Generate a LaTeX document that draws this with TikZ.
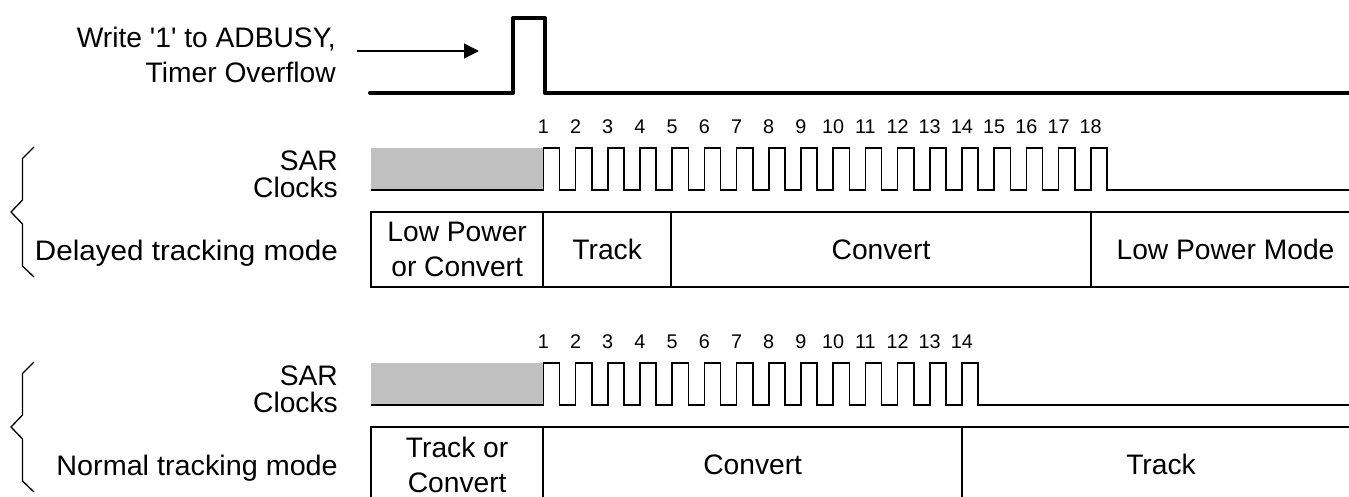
\documentclass[tikz,border=0pt]{standalone}
\usepackage{fontspec}
\setmainfont{Liberation Sans}
\usetikzlibrary{arrows.meta}
\definecolor{boxgray}{RGB}{192,192,192}
\begin{document}
\begin{tikzpicture}[x=1pt,y=-1pt,
  lbl/.style={font=\fontsize{28.2}{35}\selectfont, inner sep=0pt},
  sarlbl/.style={font=\fontsize{28.2}{27}\selectfont, inner sep=0pt, align=right, anchor=east},
  num/.style={font=\fontsize{19.8}{24}\selectfont, inner sep=0pt, anchor=base},
  cell/.style={draw, line width=1.8pt, minimum height=75pt, inner sep=0pt, outer sep=0pt,
               anchor=north west, align=center, font=\fontsize{28.2}{35}\selectfont},
  clk/.style={line width=1.6pt, line join=miter},
  sig/.style={line width=4pt, line join=round, line cap=round},
  brace/.style={line width=1.3pt, line join=miter},
  pointer/.style={line width=1.3pt, -{Triangle[length=15pt,width=15pt]}}]
\useasboundingbox (0,0) rectangle (1349,496);

% trigger
\node[lbl, align=right, anchor=east] (trig) at (336,54.5)
  {Write \textquotesingle1\textquotesingle{} to ADBUSY,\\Timer Overflow};
\coordinate (arrS) at (357,51);
\coordinate (arrE) at (479,51);
\draw[pointer] (arrS) -- (arrE);
\draw[sig] (370,93) -- (513,93) -- (513,18) -- (545,18) -- (545,93) -- (1355,93);

% ---------- delayed tracking mode ----------
\draw[brace] (34,147) -- (22.5,158.5) -- (22.5,200) -- (11,212) -- (22.5,224) -- (22.5,266) -- (34,277);
\node[sarlbl] (sar1) at (338,174.5) {SAR\\Clocks};
\node[lbl, anchor=base east] (mode1) at (338,260) {\scalebox{1.05}[1]{Delayed tracking mode}};
\fill[boxgray] (371,148) rectangle (543.3,190);
\draw[clk] (371,190) -- (543.3,190)
  foreach \k in {0,...,17} { -- ({543.3+\k*32.2},190) -- ({543.3+\k*32.2},148)
    -- ({559.5+\k*32.2},148) -- ({559.5+\k*32.2},190) } -- (1355,190);
\foreach \k in {1,...,18}
  \node[num] (na\k) at ({543.3+(\k-1)*32.2},133) {\k};
\node[cell, minimum width=172.3pt] (c11) at (371,212) {Low Power\\or Convert};
\node[cell, minimum width=127.7pt] (c12) at (543.3,212) {Track};
\node[cell, minimum width=420pt] (c13) at (671,212) {Convert};
\node[cell, minimum width=269pt] (c14) at (1091,212) {Low Power Mode};

% ---------- normal tracking mode ----------
\draw[brace] (34,362) -- (22.5,373.5) -- (22.5,415) -- (11,427) -- (22.5,439) -- (22.5,481) -- (34,492);
\node[sarlbl] (sar2) at (338,389.5) {SAR\\Clocks};
\node[lbl, anchor=base east] (mode2) at (338,475) {\scalebox{1.02}[1]{Normal tracking mode}};
\fill[boxgray] (371,363) rectangle (543.3,405);
\draw[clk] (371,405) -- (543.3,405)
  foreach \k in {0,...,13} { -- ({543.3+\k*32.2},405) -- ({543.3+\k*32.2},363)
    -- ({559.5+\k*32.2},363) -- ({559.5+\k*32.2},405) } -- (1355,405);
\foreach \k in {1,...,14}
  \node[num] (nb\k) at ({543.3+(\k-1)*32.2},348) {\k};
\node[cell, minimum width=172.3pt] (c21) at (371,427) {Track or\\Convert};
\node[cell, minimum width=418.7pt] (c22) at (543.3,427) {Convert};
\node[cell, minimum width=398pt] (c23) at (962,427) {Track};
\end{tikzpicture}
\end{document}
